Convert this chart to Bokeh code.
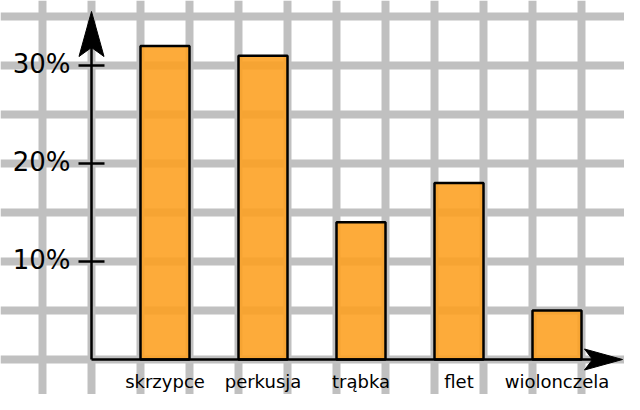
from bokeh.plotting import figure
from bokeh.models import Range1d, Grid, SingleIntervalTicker, ColumnDataSource
from bokeh.core.properties import value
from bokeh.embed import file_html
from bokeh.resources import INLINE

# data
categories = ["skrzypce", "perkusja", "trąbka", "flet", "wiolonczela"]
positions = [1.5, 3.5, 5.5, 7.5, 9.5]
percent = [32, 31, 14, 18, 5]
y_ticks = [10, 20, 30]
y_tick_labels = ["10%", "20%", "30%"]

# layout constants (px per unit)
PX_X = 49.0
PX_Y = 9.8
W, H = 624, 394
OX, OY = 91, 359  # origin position in px

p = figure(width=W, height=H, output_backend="svg", toolbar_location=None,
           x_axis_type=None, y_axis_type=None, min_border=0,
           x_range=Range1d(-OX / PX_X, (W - OX) / PX_X),
           y_range=Range1d(-(H - OY) / PX_Y, OY / PX_Y))
p.outline_line_color = None
p.background_fill_color = "white"
p.border_fill_color = "white"

grid_color = "#c0c0c0"
p.add_layout(Grid(dimension=0, ticker=SingleIntervalTicker(interval=1, num_minor_ticks=0),
                  grid_line_color=grid_color, grid_line_width=8))
p.add_layout(Grid(dimension=1, ticker=SingleIntervalTicker(interval=5, num_minor_ticks=0),
                  grid_line_color=grid_color, grid_line_width=8))

src = ColumnDataSource(dict(x=positions, top=percent, name=categories))
p.vbar(x="x", top="top", bottom=0, width=1, source=src,
       fill_color="#fd9f1f", fill_alpha=0.88, line_color="black", line_width=2.5)

# axes (arrows)
x_end = (622 - OX) / PX_X   # arrow tip at 622 px
y_end = 348 / PX_Y          # arrow tip 348 px above origin
p.line([0, x_end - 0.6], [0, 0], line_color="black", line_width=2.5)
p.line([0, 0], [0, y_end - 3], line_color="black", line_width=2.5)
# arrow heads
p.patch([0, 12.5 / PX_X, 0, -12.5 / PX_X],
        [y_end, y_end - 45 / PX_Y, y_end - 36 / PX_Y, y_end - 45 / PX_Y],
        fill_color="black", line_color="black", line_width=1)
p.patch([x_end, x_end - 38 / PX_X, x_end - 30 / PX_X, x_end - 38 / PX_X],
        [0, 10.5 / PX_Y, 0, -10.5 / PX_Y],
        fill_color="black", line_color="black", line_width=1)

# y ticks
p.scatter(x=[0] * len(y_ticks), y=y_ticks, marker="dash", size=26,
          line_color="black", line_width=2.5)
p.text(x=[0] * len(y_ticks), y=y_ticks, text=y_tick_labels,
       text_font=value("DejaVu Sans"), text_font_size="26px",
       text_align="right", text_baseline="alphabetic",
       x_offset=-21, y_offset=-2, text_color="black")

# x labels
p.text(x="x", y=0, text="name", source=src,
       text_font=value("DejaVu Sans"), text_font_size="18px",
       text_align="center", text_baseline="alphabetic",
       y_offset=22, text_color="black")

open("out.html", "w").write(file_html(p, INLINE))
